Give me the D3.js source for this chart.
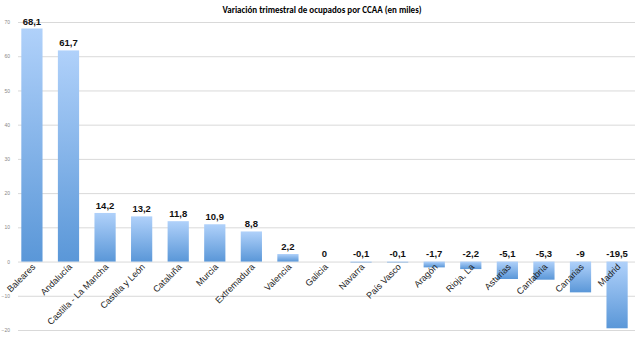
<!DOCTYPE html>
<html><head><meta charset="utf-8">
<script src="https://cdn.jsdelivr.net/npm/d3@7"></script>
<style>body{margin:0;background:#fff}svg{display:block}</style>
</head><body>
<script>
const categories = ["Baleares","Andalucía","Castilla - La Mancha","Castilla y León","Cataluña","Murcia","Extremadura","Valencia","Galicia","Navarra","País Vasco","Aragón","Rioja, La","Asturias","Cantabria","Canarias","Madrid"];
const values = [68.1,61.7,14.2,13.2,11.8,10.9,8.8,2.2,0,-0.1,-0.1,-1.7,-2.2,-5.1,-5.3,-9,-19.5];
const labels = ["68,1","61,7","14,2","13,2","11,8","10,9","8,8","2,2","0","-0,1","-0,1","-1,7","-2,2","-5,1","-5,3","-9","-19,5"];
const yTicks = [-20,-10,0,10,20,30,40,50,60,70];
const title = "Variación trimestral de ocupados por CCAA (en miles)";

const W=640,H=342;
const svg=d3.select("body").append("svg").attr("width",W).attr("height",H);
const defs=svg.append("defs");
const g=defs.append("linearGradient").attr("id","bg").attr("x1",0).attr("y1",0).attr("x2",0).attr("y2",1);
g.append("stop").attr("offset","0%").attr("stop-color","#b0d1fa");
g.append("stop").attr("offset","100%").attr("stop-color","#5a97d8");

const x=d3.scaleBand().domain(categories).range([14,635]).paddingInner(0.42).paddingOuter(0.2);
const y=d3.scaleLinear().domain([-20,70]).range([330,22]);

svg.append("text").attr("x",322).attr("y",13).attr("text-anchor","middle")
  .attr("font-family","Carlito, Lato, 'Liberation Sans', sans-serif").attr("font-weight","bold").attr("font-size",9).text(title);

const ax=svg.append("g").attr("transform","translate(18,0)")
  .call(d3.axisLeft(y).tickValues(yTicks).tickSize(-617).tickFormat(d3.format("d")));
ax.select(".domain").remove();
ax.selectAll("line").attr("stroke","#d9d9d9").attr("stroke-width",1);
ax.selectAll("text").attr("fill","#888").attr("font-size",5).attr("x",-8).attr("font-family","'Liberation Sans',sans-serif");

svg.append("g").selectAll("rect").data(values).join("rect")
  .attr("x",(d,i)=>x(categories[i]))
  .attr("width",x.bandwidth())
  .attr("y",d=>y(Math.max(0,d)))
  .attr("height",d=>Math.max(Math.abs(y(d)-y(0)), d===0?0:0.8))
  .attr("fill","url(#bg)");

svg.append("g").selectAll("text").data(values).join("text")
  .attr("x",(d,i)=>x(categories[i])+x.bandwidth()/2)
  .attr("y",d=>d>0?y(d)-4:y(0)-5)
  .attr("text-anchor","middle").attr("font-weight","bold").attr("font-size",9.5)
  .attr("font-family","'Liberation Sans',sans-serif").attr("fill","#111")
  .text((d,i)=>labels[i]);

svg.append("g").selectAll("text").data(categories).join("text")
  .attr("transform",d=>`translate(${x(d)+x.bandwidth()/2+4},${y(0)+6}) rotate(-45)`)
  .attr("text-anchor","end").attr("font-size",9).attr("fill","#222")
  .attr("font-family","'Liberation Sans',sans-serif")
  .text(d=>d);
</script>
</body></html>
